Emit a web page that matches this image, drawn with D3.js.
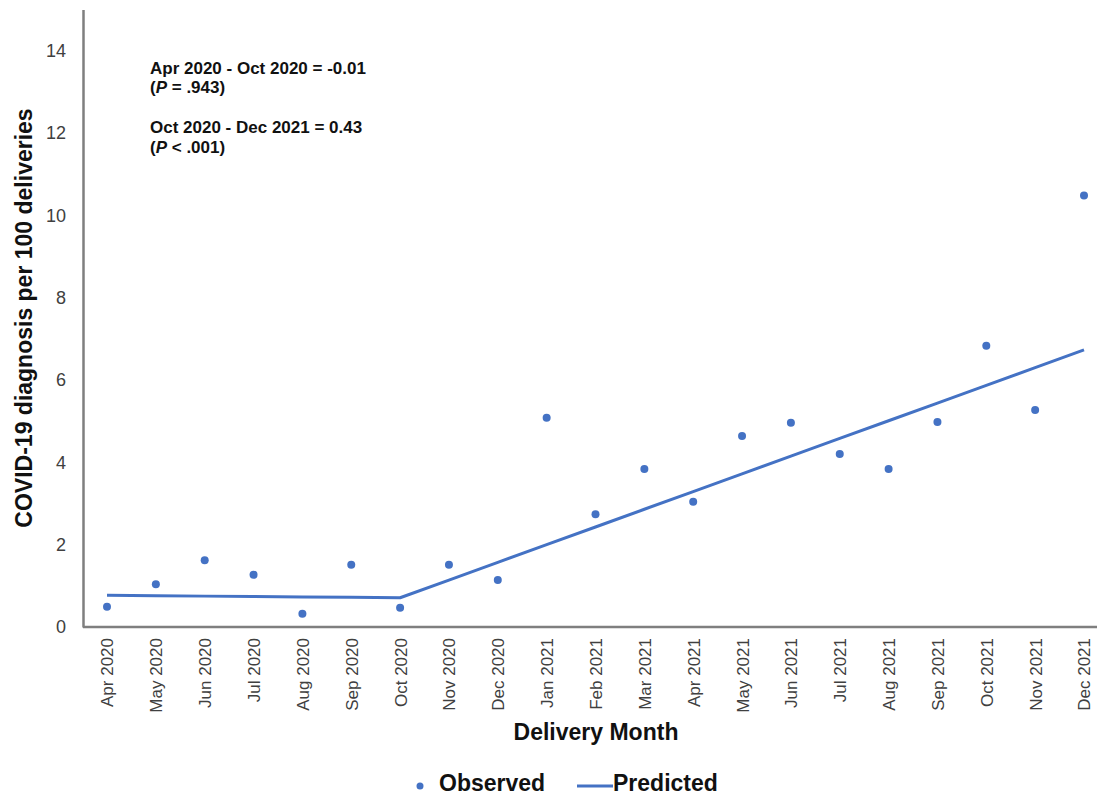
<!DOCTYPE html>
<html>
<head>
<meta charset="utf-8">
<script src="https://cdn.jsdelivr.net/npm/d3@7"></script>
<style>
  html, body { margin: 0; padding: 0; background: #fff; }
  svg { display: block; font-family: "Liberation Sans", Arial, sans-serif; }
</style>
</head>
<body>
<svg id="chart" width="1097" height="801"></svg>
<script>
// Monthly delivery categories
const months = ["Apr 2020","May 2020","Jun 2020","Jul 2020","Aug 2020","Sep 2020","Oct 2020",
  "Nov 2020","Dec 2020","Jan 2021","Feb 2021","Mar 2021","Apr 2021","May 2021","Jun 2021",
  "Jul 2021","Aug 2021","Sep 2021","Oct 2021","Nov 2021","Dec 2021"];

// Observed COVID-19 diagnoses per 100 deliveries
const observed = [0.49, 1.04, 1.62, 1.27, 0.32, 1.51, 0.47,
  1.51, 1.14, 5.08, 2.74, 3.84, 3.04, 4.64, 4.96,
  4.20, 3.84, 4.98, 6.83, 5.27, 10.48];

// Segmented regression prediction
const predicted = [0.77, 0.76, 0.75, 0.74, 0.73, 0.72, 0.71,
  1.14, 1.57, 2.00, 2.43, 2.86, 3.29, 3.72, 4.15,
  4.58, 5.01, 5.44, 5.87, 6.30, 6.73];

const yTicks = [0, 2, 4, 6, 8, 10, 12, 14];

const annotations = [
  ["Apr 2020 - Oct 2020 = -0.01", null],
  [null, "(|P| = .943)"],
  ["Oct 2020 - Dec 2021 = 0.43", null],
  [null, "(|P| < .001)"]
];

const blue = "#4472C4";
const svg = d3.select("#chart");

const x = d3.scalePoint().domain(months).range([107, 1084]);
const y = d3.scaleLinear().domain([0, 15]).range([627, 9.5]);

// Y axis
const yAxis = svg.append("g")
  .attr("transform", "translate(83,0)")
  .call(d3.axisLeft(y).tickValues(yTicks).tickSize(0).tickPadding(17));
yAxis.select(".domain").attr("stroke", "#7f7f7f").attr("stroke-width", 2.5);
yAxis.selectAll("text").attr("font-size", 18).attr("fill", "#404040")
  .attr("font-family", "'Liberation Sans', Arial, sans-serif");

// X axis
const xAxis = svg.append("g")
  .attr("transform", "translate(0,627)")
  .call(d3.axisBottom(x).tickSize(0));
xAxis.select(".domain").attr("d", "M83,0H1097").attr("stroke", "#7f7f7f").attr("stroke-width", 2.5);
xAxis.selectAll("text")
  .attr("font-size", 17).attr("fill", "#404040")
  .attr("font-family", "'Liberation Sans', Arial, sans-serif")
  .attr("transform", "rotate(-90)")
  .attr("text-anchor", "end")
  .attr("x", -11).attr("y", 0).attr("dy", "0.35em");

// Predicted line
svg.append("path")
  .datum(predicted)
  .attr("fill", "none")
  .attr("stroke", blue)
  .attr("stroke-width", 3)
  .attr("stroke-linejoin", "round")
  .attr("d", d3.line().x((d, i) => x(months[i])).y(d => y(d)));

// Observed points
svg.append("g").selectAll("circle")
  .data(observed)
  .join("circle")
  .attr("cx", (d, i) => x(months[i]))
  .attr("cy", d => y(d))
  .attr("r", 4)
  .attr("fill", blue);

// Slope annotations
const ann = svg.append("g").attr("font-size", 17).attr("font-weight", "bold").attr("fill", "#111");
const annY = [74, 93, 133, 153];
annotations.forEach((a, i) => {
  const t = ann.append("text").attr("x", 150).attr("y", annY[i]);
  if (a[0]) { t.text(a[0]); }
  else {
    const parts = a[1].split("|");
    t.append("tspan").text(parts[0]);
    t.append("tspan").attr("font-style", "italic").text(parts[1]);
    t.append("tspan").text(parts[2]);
  }
});

// Axis titles
svg.append("text")
  .attr("transform", "translate(32,318) rotate(-90)")
  .attr("text-anchor", "middle")
  .attr("font-size", 23).attr("font-weight", "bold").attr("fill", "#111")
  .text("COVID-19 diagnosis per 100 deliveries");

svg.append("text")
  .attr("x", 596).attr("y", 740)
  .attr("text-anchor", "middle")
  .attr("font-size", 23).attr("font-weight", "bold").attr("fill", "#111")
  .text("Delivery Month");

// Legend
const lg = svg.append("g").attr("font-size", 23).attr("font-weight", "bold").attr("fill", "#111");
lg.append("circle").attr("cx", 420).attr("cy", 786).attr("r", 3.5).attr("fill", blue);
lg.append("text").attr("x", 439).attr("y", 791).text("Observed");
lg.append("line").attr("x1", 577).attr("x2", 613).attr("y1", 786).attr("y2", 786)
  .attr("stroke", blue).attr("stroke-width", 3);
lg.append("text").attr("x", 613).attr("y", 791).text("Predicted");
</script>
</body>
</html>
